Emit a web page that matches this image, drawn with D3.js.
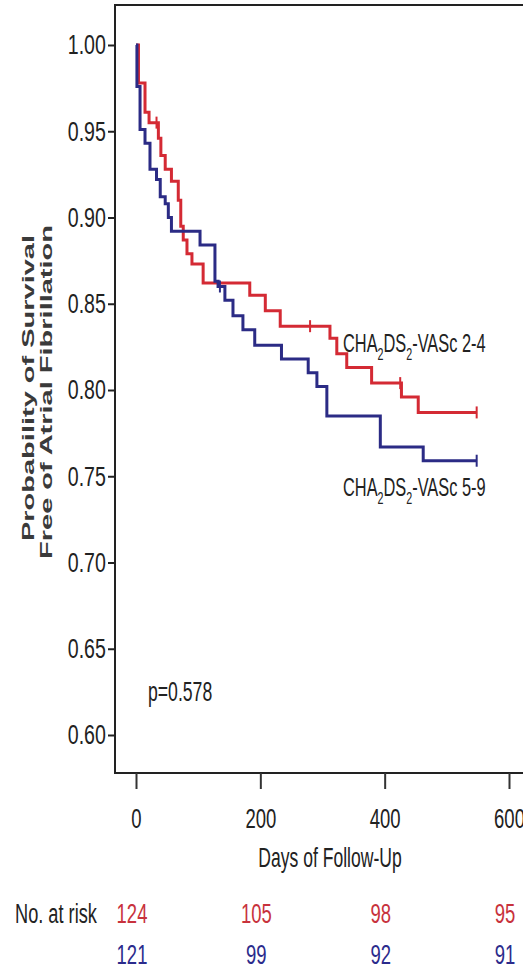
<!DOCTYPE html>
<html>
<head>
<meta charset="utf-8">
<script src="https://cdn.jsdelivr.net/npm/d3@7"></script>
<style>
  body { margin: 0; background: #fff; }
  text { font-family: "Liberation Sans", Arial, sans-serif; }
</style>
</head>
<body>
<div id="chart"></div>
<script>
// Kaplan-Meier steps (days, survival after the drop)
var redTime = [0, 4, 14.5, 21, 36, 40, 47, 57, 68, 72, 76, 82, 90, 108, 183, 208, 232, 312, 323, 339, 379, 427, 454, 548];
var redSurv = [1, .978, .961, .955, .946, .936, .928, .921, .910, .895, .887, .879, .873, .862, .855, .846, .837, .830, .821, .813, .804, .796, .787, .787];
var blueTime = [0, 1.5, 6.5, 14.5, 22.5, 33, 39, 47, 52, 57, 103, 127, 132, 143, 156, 172, 191, 234, 277, 291, 307, 393, 462, 548];
var blueSurv = [1, .976, .951, .943, .928, .922, .912, .908, .900, .892, .884, .863, .860, .852, .843, .835, .826, .818, .810, .802, .785, .767, .759, .759];
var redCensor = [33, 280, 425, 548];
var blueCensor = [135, 548];

var xTicks = [0, 200, 400, 600];
var yTicks = [0.60, 0.65, 0.70, 0.75, 0.80, 0.85, 0.90, 0.95, 1.00];
var riskRed = [124, 105, 98, 95];
var riskBlue = [121, 99, 92, 91];
var labelRed = ["CHA", "2", "DS", "2", "-VASc 2-4"];
var labelBlue = ["CHA", "2", "DS", "2", "-VASc 5-9"];
var pText = "p=0.578";

var red = "#d42a34", blue = "#2b2b85";
var width = 523, height = 969;
var plotLeft = 115, plotTop = 5, plotBottom = 773, plotRight = 560;

var svg = d3.select("#chart").append("svg")
    .attr("width", width)
    .attr("height", height);

var x = d3.scaleLinear().domain([0, 600]).range([136, 509]);
var y = d3.scaleLinear().domain([0.60, 1.00]).range([735, 45]);

// text squeezed sideways like the figure
function sText(g, px, py, str, size, sx, anchor, fill) {
    return g.append("text")
        .attr("transform", "translate(" + px + "," + py + ") scale(" + sx + ",1)")
        .attr("text-anchor", anchor || "start")
        .style("font-size", size + "px")
        .style("fill", fill || "#222")
        .text(str);
}

// frame
svg.append("path")
    .attr("d", "M" + plotRight + "," + plotTop + "H" + plotLeft + "V" + plotBottom + "H" + plotRight)
    .attr("fill", "none")
    .attr("stroke", "#222")
    .attr("stroke-width", 2);

// y axis
var yAxis = d3.axisLeft(y)
    .tickValues(yTicks)
    .tickSize(7)
    .tickPadding(2)
    .tickFormat(d3.format(".2f"));

var gY = svg.append("g")
    .attr("transform", "translate(" + plotLeft + ",0)")
    .call(yAxis);
gY.select(".domain").remove();
gY.selectAll("line").attr("stroke", "#222").attr("stroke-width", 2);
gY.selectAll("text")
    .attr("transform", "scale(0.7,1)")
    .attr("x", -13)
    .style("font-family", "Liberation Sans")
    .style("font-size", "28px")
    .style("fill", "#222");

// x axis
var xAxis = d3.axisBottom(x)
    .tickValues(xTicks)
    .tickSize(16)
    .tickPadding(19)
    .tickFormat(d3.format("d"));

var gX = svg.append("g")
    .attr("transform", "translate(0," + plotBottom + ")")
    .call(xAxis);
gX.select(".domain").remove();
gX.selectAll("line").attr("stroke", "#333").attr("stroke-width", 2);
gX.selectAll("text")
    .attr("transform", "scale(0.66,1)")
    .style("font-family", "Liberation Sans")
    .style("font-size", "28px")
    .style("fill", "#222");

// axis titles
sText(svg, 330, 867, "Days of Follow-Up", 27, 0.65, "middle");

var yt = svg.append("g");
yt.append("text")
    .attr("transform", "translate(34,388) rotate(-90) scale(1,0.6)")
    .attr("text-anchor", "middle")
    .style("font-weight", "bold")
    .style("font-size", "29px")
    .style("fill", "#3a3a3a")
    .text("Probability of Survival");
yt.append("text")
    .attr("transform", "translate(52,392) rotate(-90) scale(1,0.6)")
    .attr("text-anchor", "middle")
    .style("font-weight", "bold")
    .style("font-size", "29px")
    .style("fill", "#3a3a3a")
    .text("Free of Atrial Fibrillation");

// curves
var line = d3.line()
    .x(function (d) { return x(d[0]); })
    .y(function (d) { return y(d[1]); })
    .curve(d3.curveStepAfter);

function drawCurve(times, surv, censor, color) {
    var pts = times.map(function (t, i) { return [t, surv[i]]; });
    svg.append("path")
        .datum(pts)
        .attr("d", line)
        .attr("fill", "none")
        .attr("stroke", color)
        .attr("stroke-width", 3);

    svg.append("g").selectAll("line")
        .data(censor)
        .enter().append("line")
        .attr("x1", function (d) { return x(d); })
        .attr("x2", function (d) { return x(d); })
        .attr("y1", function (d) { return y(surv[d3.bisectRight(times, d) - 1]) - 6; })
        .attr("y2", function (d) { return y(surv[d3.bisectRight(times, d) - 1]) + 6; })
        .attr("stroke", color)
        .attr("stroke-width", 2);
}

drawCurve(redTime, redSurv, redCensor, red);
drawCurve(blueTime, blueSurv, blueCensor, blue);

// curve labels with subscripts
function subLabel(px, py, parts) {
    var t = svg.append("text")
        .attr("transform", "translate(" + px + "," + py + ") scale(0.63,1)")
        .style("font-size", "26px")
        .style("fill", "#222");
    parts.forEach(function (p, i) {
        var sub = i % 2 === 1;
        t.append("tspan")
            .attr("dy", sub ? 8 : (i > 0 ? -8 : 0))
            .style("font-size", sub ? "17px" : "26px")
            .text(p);
    });
}
subLabel(343, 352, labelRed);
subLabel(343, 496, labelBlue);

// p value
sText(svg, 148, 701, pText, 28, 0.63, "start");

// numbers at risk
sText(svg, 15, 923, "No. at risk", 28, 0.65, "start");
riskRed.forEach(function (v, i) {
    sText(svg, x(xTicks[i]) - 4, 923, v, 28, 0.66, "middle", "#c8323c");
});
riskBlue.forEach(function (v, i) {
    sText(svg, x(xTicks[i]) - 4, 964, v, 28, 0.66, "middle", "#2b2b8c");
});
</script>
</body>
</html>
